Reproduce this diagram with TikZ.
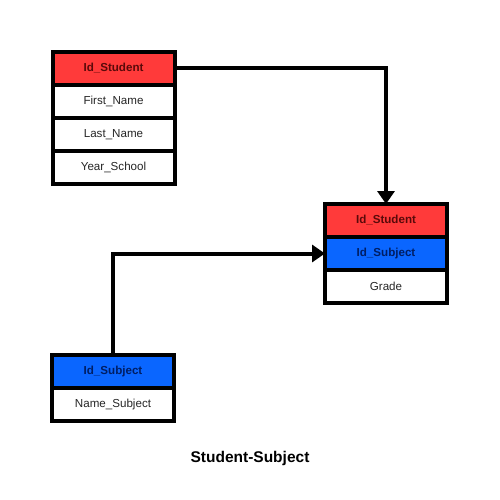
\documentclass[tikz,border=0pt]{standalone}
\usepackage{fontspec}
\setmainfont{Liberation Sans}
\usepackage{xcolor}
\usetikzlibrary{positioning,arrows.meta}

\definecolor{keyred}{RGB}{255,58,58}
\definecolor{keyblue}{RGB}{10,102,255}
\definecolor{txtred}{RGB}{90,10,10}
\definecolor{txtblue}{RGB}{0,30,100}

\begin{document}
\begin{tikzpicture}[x=1pt,y=-1pt,
  field/.style={draw=black, line width=4pt, fill=white, rectangle, outer sep=0pt,
    minimum width=122pt, minimum height=33pt, inner sep=0pt,
    font=\fontsize{11.6}{13}\selectfont, text=black!85},
  keystu/.style={field, fill=keyred, text=txtred, font=\fontsize{11.6}{13}\selectfont\bfseries},
  keysub/.style={field, fill=keyblue, text=txtblue, font=\fontsize{11.6}{13}\selectfont\bfseries},
  link/.style={line width=4pt, -{Triangle[length=13pt,width=17pt]}},
  node distance=0pt]

\useasboundingbox (0,0) rectangle (500,500);

% Student
\node[keystu, anchor=north] (st1) at (113.5,52) {Id\_Student};
\node[field, below=of st1] (st2) {First\_Name};
\node[field, below=of st2] (st3) {Last\_Name};
\node[field, below=of st3] (st4) {Year\_School};

% Student-Subject
\node[keystu, anchor=north] (ss1) at (386,204) {Id\_Student};
\node[keysub, below=of ss1] (ss2) {Id\_Subject};
\node[field, below=of ss2] (ss3) {Grade};

% Subject
\node[keysub, anchor=north] (sb1) at (113,355) {Id\_Subject};
\node[field, below=of sb1] (sb2) {Name\_Subject};

\draw[link] (st1.east) -| (ss1.north);
\draw[link] (sb1.north) |- (ss2.west);

\node[font=\fontsize{15.5}{18}\selectfont\bfseries] (title) at (250,458) {Student-Subject};

\end{tikzpicture}
\end{document}
